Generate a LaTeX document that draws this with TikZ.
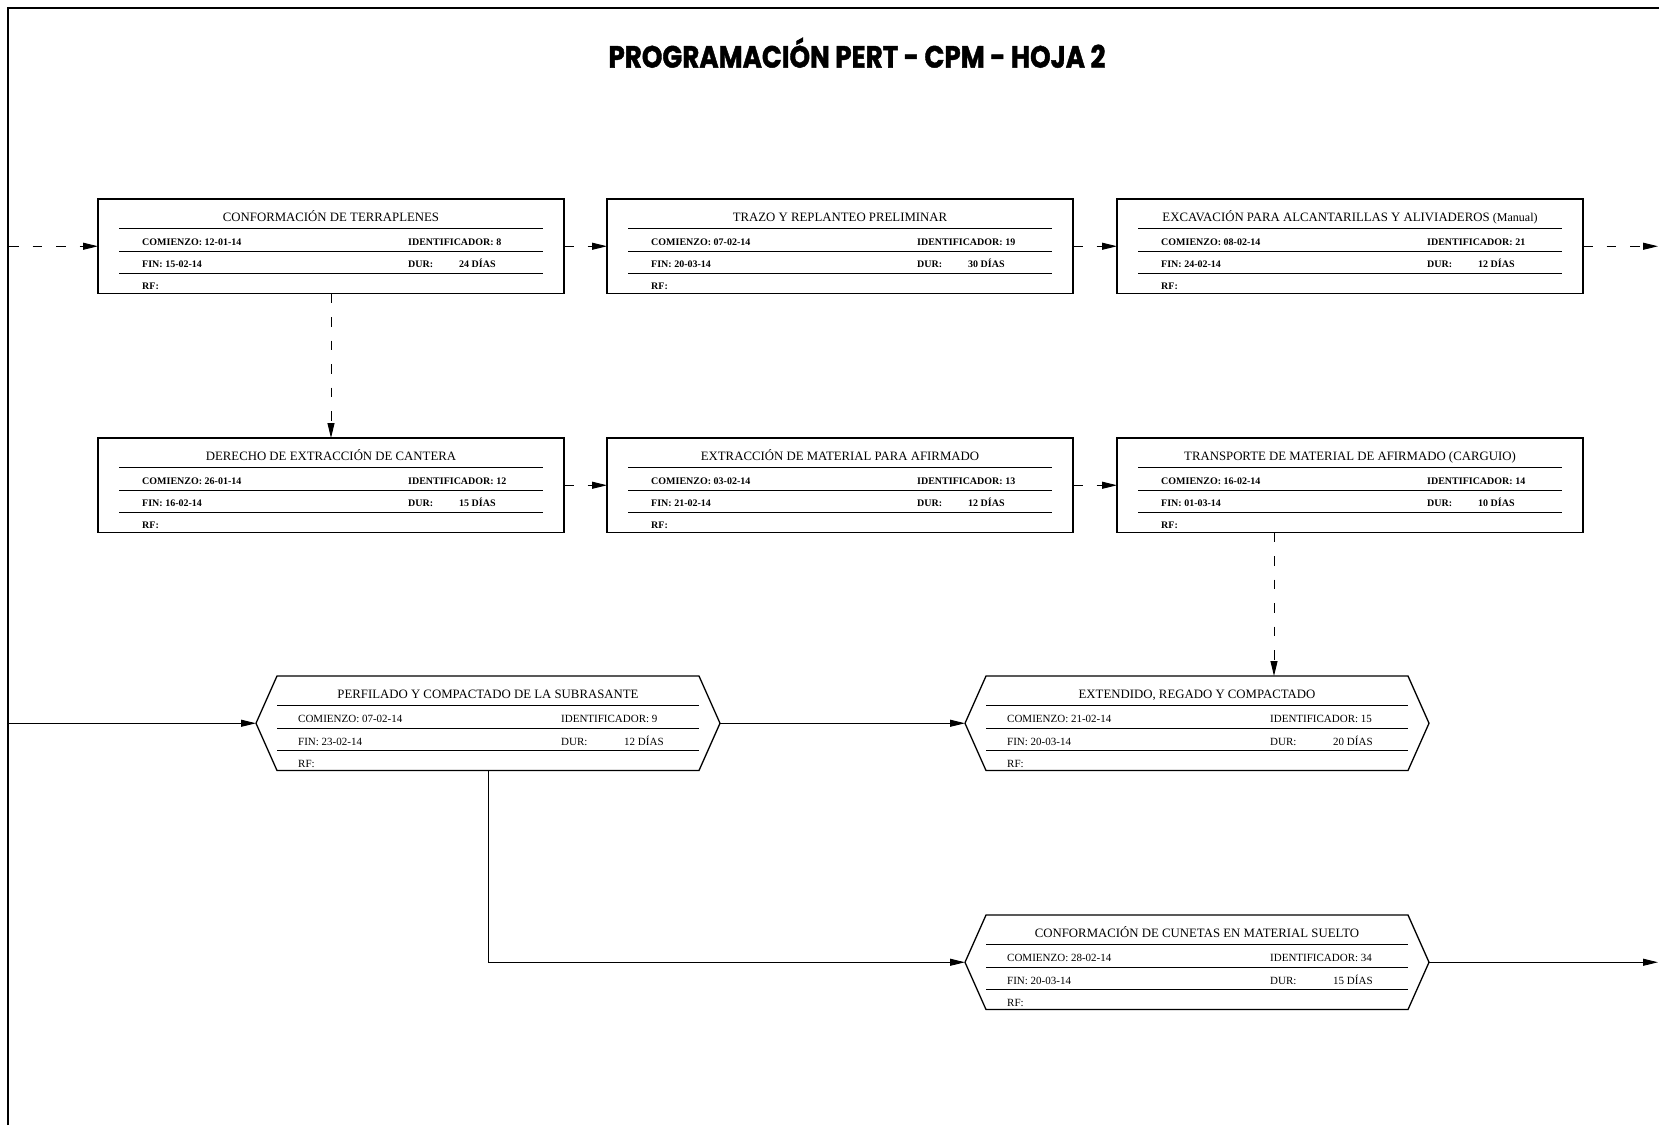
\documentclass[tikz,border=0pt]{standalone}
\usepackage{fontspec}
\setmainfont{Liberation Serif}
\newfontfamily\titlefont{Poppins}[BoldFeatures={FakeBold=1.5}]
\usetikzlibrary{arrows.meta,calc}
\tikzset{
  box/.style={minimum width=466pt, minimum height=94.5pt, inner sep=0pt, outer sep=0pt},
  boxline/.style={line width=1.3pt, line join=miter},
  rowline/.style={line width=0.9pt},
  head/.style={font=\fontsize{12.8}{14}\selectfont, inner sep=0pt, text height=8.5pt, text depth=0pt},
  dtl/.style={font=\fontsize{10}{12}\selectfont\bfseries, inner sep=0pt, anchor=west, text height=6.8pt, text depth=0pt},
  dth/.style={font=\fontsize{11}{13}\selectfont, inner sep=0pt, anchor=west, text height=7.3pt, text depth=0pt},
  conn/.style={line width=1pt, -{Triangle[length=15pt,width=7pt]}},
  dconn/.style={conn, dash pattern=on 9.5pt off 14pt},
  frame/.style={line width=1.4pt},
}
\def\offL{44}\def\offI{310}\def\offD{361}
\newcommand\fields[6]{%
  \node[head] (#1-h) at ($(#1.north)+(0,18.5)$) {#2};
  \foreach \yy in {29,52,74}
    \draw[rowline] ($(#1.north west)+(21,\yy)$) -- ($(#1.north east)+(-21,\yy)$);
  \node[dcur] (#1-c) at ($(#1.north west)+(\offL,43)$) {COMIENZO: #3};
  \node[dcur] (#1-i) at ($(#1.north west)+(\offI,43)$) {IDENTIFICADOR: #4};
  \node[dcur] (#1-f) at ($(#1.north west)+(\offL,65.5)$) {FIN: #5};
  \node[dcur] (#1-u) at ($(#1.north west)+(\offI,65.5)$) {DUR:};
  \node[dcur] (#1-d) at ($(#1.north west)+(\offD,65.5)$) {#6 DÍAS};
  \node[dcur] (#1-r) at ($(#1.north west)+(\offL,87.5)$) {RF:};
}
\newcommand\rectbox[8]{%
  \node[box, draw, boxline, anchor=north west] (#1) at (#2,#3) {};
  \def\offL{44}\def\offI{310}\def\offD{361}%
  \tikzset{dcur/.style={dtl}}%
  \fields{#1}{#4}{#5}{#6}{#7}{#8}%
}
\newcommand\hexbox[8]{%
  \node[box, minimum width=464pt, anchor=north west] (#1) at (#2,#3) {};
  \draw[boxline] (#1.west) -- ($(#1.north west)+(21,0)$) -- ($(#1.north east)+(-21,0)$)
    -- (#1.east) -- ($(#1.south east)+(-21,0)$) -- ($(#1.south west)+(21,0)$) -- cycle;
  \def\offL{42}\def\offI{305}\def\offD{368}%
  \tikzset{dcur/.style={dth}}%
  \fields{#1}{#4}{#5}{#6}{#7}{#8}%
}
\begin{document}
\begin{tikzpicture}[x=1pt,y=-1pt]
\useasboundingbox (0,0) rectangle (1659,1125);
\fill[white] (0,0) rectangle (1659,1125);
\draw[frame] (8,1125) -- (8,8) -- (1659,8);
\node[inner sep=0pt, outer sep=0pt] (title) at (857,52.7)
  {\resizebox{497pt}{30pt}{\titlefont\bfseries PROGRAMACIÓN PERT - CPM - HOJA 2}};
% row 1
\rectbox{A}{98}{199}{CONFORMACIÓN DE TERRAPLENES}{12-01-14}{8}{15-02-14}{24}
\rectbox{B}{607}{199}{TRAZO Y REPLANTEO PRELIMINAR}{07-02-14}{19}{20-03-14}{30}
\rectbox{C}{1117}{199}{EXCAVACIÓN PARA ALCANTARILLAS Y ALIVIADEROS {\fontsize{12}{13}\selectfont(Manual)}}{08-02-14}{21}{24-02-14}{12}
% row 2
\rectbox{D}{98}{438}{DERECHO DE EXTRACCIÓN DE CANTERA}{26-01-14}{12}{16-02-14}{15}
\rectbox{E}{607}{438}{EXTRACCIÓN DE MATERIAL PARA AFIRMADO}{03-02-14}{13}{21-02-14}{12}
\rectbox{F}{1117}{438}{TRANSPORTE DE MATERIAL DE AFIRMADO (CARGUIO)}{16-02-14}{14}{01-03-14}{10}
% row 3
\hexbox{G}{256}{676}{PERFILADO Y COMPACTADO DE LA SUBRASANTE}{07-02-14}{9}{23-02-14}{12}
\hexbox{H}{965}{676}{EXTENDIDO, REGADO Y COMPACTADO}{21-02-14}{15}{20-03-14}{20}
\hexbox{I}{965}{915}{CONFORMACIÓN DE CUNETAS EN MATERIAL SUELTO}{28-02-14}{34}{20-03-14}{15}
% connectors
\coordinate (inA) at (9,246.25);
\coordinate (outC) at (1658,246.25);
\coordinate (inG) at (9,723.25);
\coordinate (outI) at (1658,962.25);
\draw[dconn] (inA) -- (A.west);
\draw[dconn] (A.east) -- (B.west);
\draw[dconn] (B.east) -- (C.west);
\draw[dconn] (C.east) -- (outC);
\draw[dconn] (A.south) -- (D.north);
\draw[dconn] (D.east) -- (E.west);
\draw[dconn] (E.east) -- (F.west);
\draw[dconn] ($(F.south west)+(157,0)$) -- ($(H.north west)+(309,0)$);
\draw[conn] (inG) -- (G.west);
\draw[conn] (G.east) -- (H.west);
\draw[conn] (G.south) |- (I.west);
\draw[conn] (I.east) -- (outI);
\end{tikzpicture}
\end{document}
